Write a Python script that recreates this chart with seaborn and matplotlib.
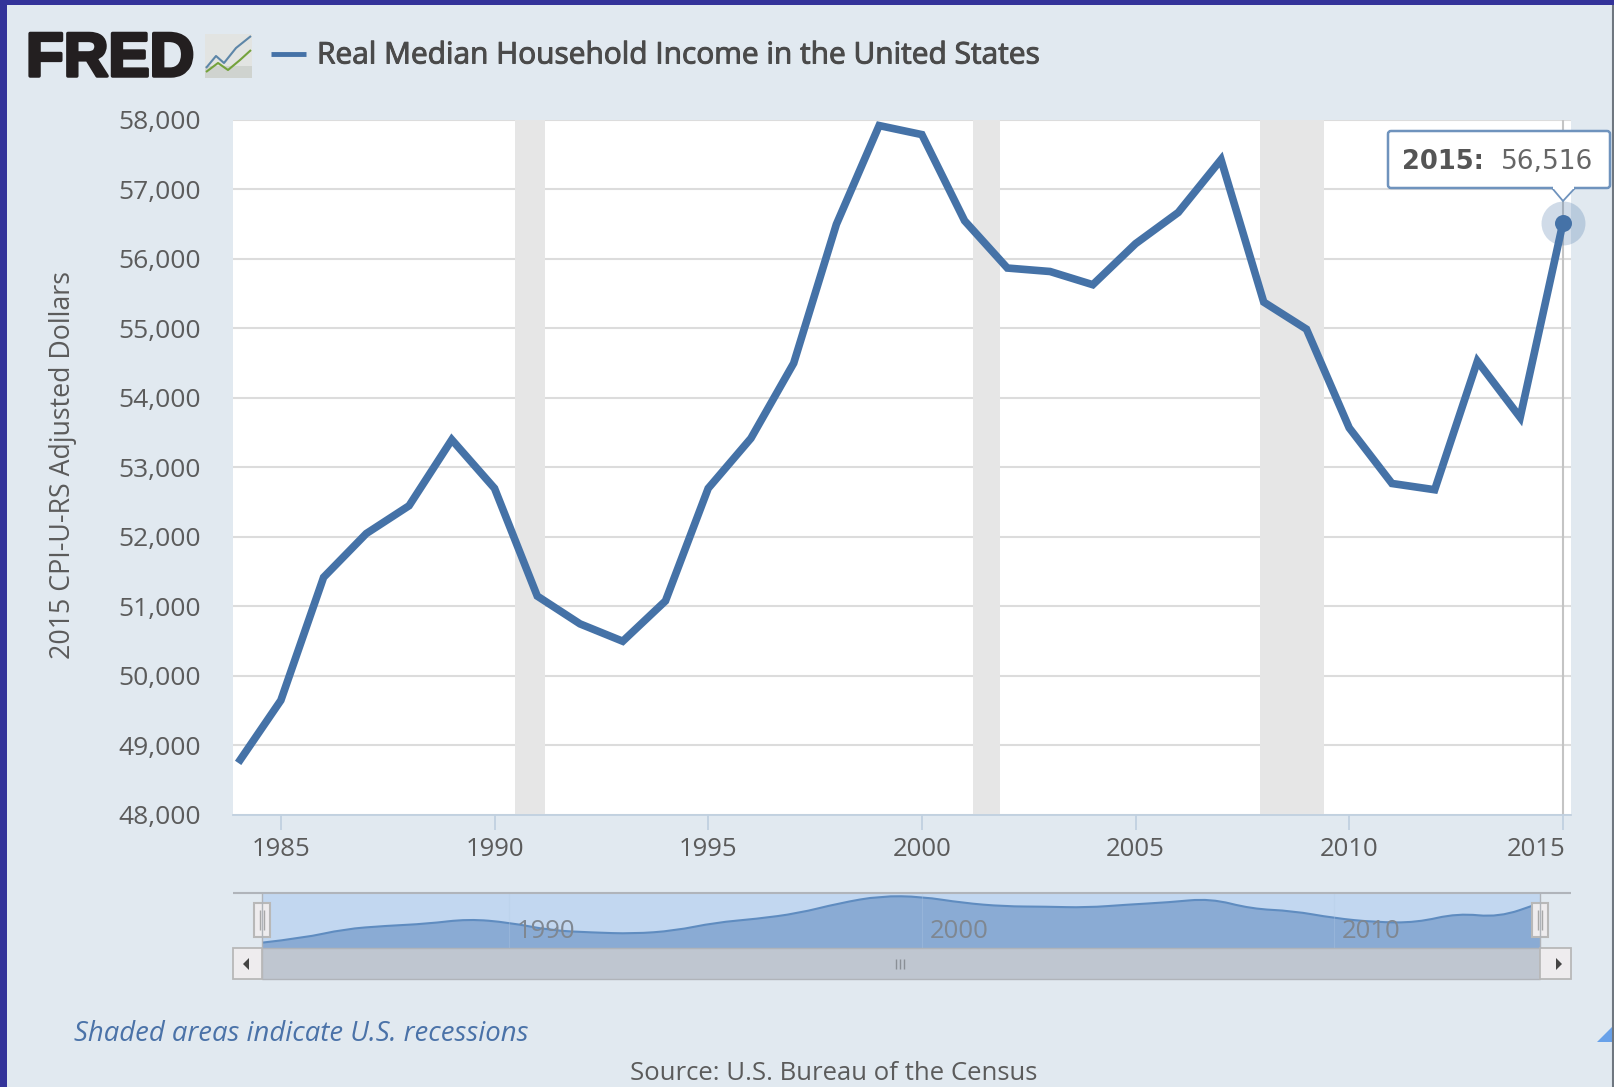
import numpy as np
import pandas as pd
import matplotlib
matplotlib.use('Agg')
import matplotlib.pyplot as plt
import matplotlib.patheffects as pe
from matplotlib.patches import Rectangle, Polygon, PathPatch, FancyBboxPatch
from matplotlib.path import Path
from matplotlib.ticker import FuncFormatter
from matplotlib.transforms import ScaledTranslation
import seaborn as sns

years = list(range(1984, 2016))
income = [48750, 49650, 51420, 52050, 52450, 53400, 52700, 51150,
          50750, 50500, 51080, 52700, 53420, 54500, 56500, 57920,
          57790, 56550, 55870, 55820, 55630, 56220, 56670, 57430,
          55380, 54990, 53570, 52770, 52680, 54530, 53720, 56516]
recessions = [(1990.47, 1991.17), (2001.19, 2001.82), (2007.92, 2009.42)]
y_ticks = list(range(48000, 59000, 1000))
x_ticks = [1985, 1990, 1995, 2000, 2005, 2010, 2015]
nav_ticks = [1990, 2000, 2010]

W, H = 1615, 1087
BG = '#e1e9f0'
BLUE = '#4572a7'
TXT = '#5b5b5b'

df = pd.DataFrame({'year': years, 'income': income})

sns.set_theme(style='white')
plt.rcParams['font.family'] = ['Open Sans', 'DejaVu Sans']
plt.rcParams['lines.solid_capstyle'] = 'butt'


def px_axes(fig, x0, y0, x1, y1, **kw):
    return fig.add_axes([x0 / W, 1 - y1 / H, (x1 - x0) / W, (y1 - y0) / H], **kw)


def smooth_path(xs, ys, close_to=None):
    # quadratic curves through the midpoints, the navigator line is smoothed
    verts = [(xs[0], ys[0])]
    codes = [Path.MOVETO]
    for i in range(1, len(xs) - 1):
        verts += [(xs[i], ys[i]), ((xs[i] + xs[i + 1]) / 2, (ys[i] + ys[i + 1]) / 2)]
        codes += [Path.CURVE3, Path.CURVE3]
    verts.append((xs[-1], ys[-1]))
    codes.append(Path.LINETO)
    if close_to is not None:
        verts += [(xs[-1], close_to), (xs[0], close_to), (xs[0], ys[0])]
        codes += [Path.LINETO, Path.LINETO, Path.CLOSEPOLY]
    return Path(verts, codes)


fig = plt.figure(figsize=(W / 100, H / 100), dpi=100, facecolor=BG)

# main chart
ax = px_axes(fig, 233, 120, 1571, 815)
ax.set_facecolor('white')
for start, end in recessions:
    ax.axvspan(start, end, color='#e6e6e6', lw=0, zorder=1)
ax.set_yticks(y_ticks)
ax.grid(axis='y', color='#dcdcdc', lw=1.5, zorder=0)
ax.set_axisbelow(True)
ax.axvline(2015, color='#c4c4c4', lw=1.5, zorder=2)
sns.lineplot(data=df, x='year', y='income', ax=ax, color=BLUE, lw=5.5, zorder=3,
             solid_joinstyle='miter', errorbar=None)
ax.scatter([years[-1]], [income[-1]], s=1000, color=BLUE, alpha=0.25, lw=0, zorder=4, clip_on=False)
ax.scatter([years[-1]], [income[-1]], s=150, color=BLUE, lw=0, zorder=5, clip_on=False)
ax.set_xlim(1983.88, 2015.19)
ax.set_ylim(48000, 58000)
ax.set_xticks(x_ticks)
ax.yaxis.set_major_formatter(FuncFormatter(lambda v, p: f'{int(v):,}'))
ax.tick_params(axis='x', length=11, width=1.3, color='#c0d0e0', labelsize=18.5, labelcolor=TXT, pad=4.5, bottom=True)
ax.tick_params(axis='y', length=0, labelsize=19, labelcolor=TXT, pad=23)
last = ax.get_xticklabels()[-1]
last.set_ha('right')
last.set_transform(last.get_transform() + ScaledTranslation(3 / 100, 0, fig.dpi_scale_trans))
ax.set_xlabel('')
ax.set_ylabel('2015 CPI-U-RS Adjusted Dollars', fontsize=19.3, color=TXT, labelpad=0)
ax.yaxis.set_label_coords((77 - 233) / (1571 - 233), 0.503)
for side in ['top', 'left', 'right']:
    ax.spines[side].set_visible(False)
ax.spines['bottom'].set_color('#c0d0e0')
ax.spines['bottom'].set_linewidth(1.3)

# navigator
nav = px_axes(fig, 262, 893, 1540, 948)
nav.set_facecolor('#c2d7f0')
nav.set_xlim(years[0], years[-1])
nav.set_ylim(47700, 58500)
nav.add_patch(PathPatch(smooth_path(years, income, close_to=47700), facecolor='#8aabd4', edgecolor='none', zorder=2))
nav.add_patch(PathPatch(smooth_path(years, income), facecolor='none', edgecolor='#5f8cc0', lw=1.5, zorder=3))
for yr in nav_ticks:
    nav.axvline(yr, color='#b4cbe6', lw=0.8, alpha=0.3, zorder=4)
    nav.text(yr + 0.9, 48500, str(yr), ha='center', va='bottom', fontsize=18.5, color='#7f8791', zorder=5)
nav.set_xticks([])
nav.set_yticks([])
for s in nav.spines.values():
    s.set_visible(False)

# everything around the chart, in pixel coordinates
over = fig.add_axes([0, 0, 1, 1], zorder=10)
over.set_xlim(0, W)
over.set_ylim(H, 0)
over.axis('off')
over.patch.set_alpha(0)

# window border
over.add_patch(Rectangle((0, 0), W, 5, color='#33339a', lw=0))
over.add_patch(Rectangle((0, 0), 7, H, color='#33339a', lw=0))
over.plot([1613.5, 1613.5], [5, H], color='#6f7780', lw=1.5)

# logo
over.text(26, 76, 'FRED', fontsize=44.5, fontweight='bold', family='Liberation Sans', color='#231f20',
          va='baseline', ha='left', path_effects=[pe.withStroke(linewidth=2.5, foreground='#231f20')])
over.add_patch(Rectangle((205, 34), 47, 44, facecolor='#e2e4e2', edgecolor='none'))
over.add_patch(Rectangle((205, 66), 47, 12, facecolor='#cfd3cf', edgecolor='none'))
over.plot([206, 216, 224, 236, 251], [68, 56, 63, 48, 36], color='#5d86a8', lw=1.5)
over.plot([206, 218, 228, 240, 251], [72, 63, 70, 60, 50], color='#74a23c', lw=1.5)

# title
over.plot([271, 306], [54, 54], color=BLUE, lw=3.5)
over.text(317, 56, 'Real Median Household Income in the United States', fontsize=21.5,
          color='#4a4a4a', va='center', ha='left',
          path_effects=[pe.withStroke(linewidth=0.7, foreground='#4a4a4a')])

# range selector
over.plot([233, 1571], [893, 893], color='#b0b4ba', lw=1.5)
over.plot([262, 262], [893, 948], color='#b0b4ba', lw=1)
over.plot([1540, 1540], [893, 948], color='#b0b4ba', lw=1)
over.add_patch(Rectangle((262, 948), 1278, 31, facecolor='#bfc6d0', edgecolor='#b0b4ba', lw=1))
for x0, tri in [(233, [(249, 958), (249, 970), (243, 964)]), (1540, [(1556, 958), (1556, 970), (1562, 964)])]:
    over.add_patch(Rectangle((x0, 948), 29 if x0 == 233 else 31, 31, facecolor='#eeecee', edgecolor='#b8b8b8', lw=1.3))
    over.add_patch(Polygon(tri, color='#444444', lw=0))
for x in [896, 900, 904]:
    over.plot([x, x], [959, 969], color='#8a8f96', lw=1)
for xc in [262, 1540]:
    over.add_patch(Rectangle((xc - 8, 903), 16, 34, facecolor='#eeecee', edgecolor='#b8b8b8', lw=1.5))
    for dx in [-2, 2]:
        over.plot([xc + dx, xc + dx], [910, 930], color='#a8a8a8', lw=1)

# tooltip
over.add_patch(FancyBboxPatch((1388, 131), 222, 57, boxstyle='round,pad=0,rounding_size=3',
                              facecolor='white', edgecolor='#6f93bd', lw=1.8))
over.add_patch(Polygon([(1552, 188), (1563, 201), (1575, 188)], closed=False, facecolor='white',
                       edgecolor='#6f93bd', lw=1.3))
over.add_patch(Rectangle((1553, 186), 21, 3, color='white', lw=0))
over.text(1402, 162, '2015:', fontsize=18.5, fontweight='bold', family='DejaVu Sans', color='#555555',
          va='center', ha='left')
over.text(1501, 162, '56,516', fontsize=19, family='DejaVu Sans', color='#666666', va='center', ha='left')

# resize grip
over.add_patch(Polygon([(1597, 1042), (1612, 1027), (1612, 1042)], color='#4a8fe8', lw=0, alpha=0.8))

# footer
over.text(74, 1034, 'Shaded areas indicate U.S. recessions', fontsize=19.85, style='italic',
          color='#4a72a8', va='center', ha='left')
over.text(834, 1073, 'Source: U.S. Bureau of the Census', fontsize=18.55, color=TXT, va='center', ha='center')

plt.savefig('out.png', dpi=100, facecolor=BG)
